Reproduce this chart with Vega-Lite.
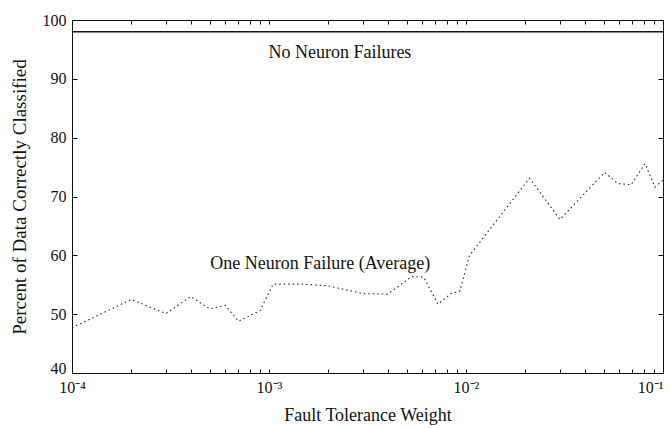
{
  "$schema": "https://vega.github.io/schema/vega-lite/v6.json",
  "width": 591,
  "height": 353,
  "autosize": {"type": "none"},
  "padding": {"left": 72, "top": 20, "right": 8, "bottom": 55},
  "background": "white",
  "config": {
    "view": {"stroke": null},
    "font": "Liberation Serif",
    "axis": {
      "grid": false,
      "domainColor": "#111",
      "domainWidth": 1,
      "tickColor": "#111",
      "tickWidth": 1,
      "labelColor": "#111",
      "titleColor": "#111",
      "labelFont": "Liberation Serif",
      "titleFont": "Liberation Serif",
      "labelFontSize": 16,
      "titleFontSize": 18,
      "titleFontWeight": "normal",
      "labelOverlap": false
    }
  },
  "datasets": {
    "one": [
      {"w": 0.0001, "p": 47.7},
      {"w": 0.0002, "p": 52.5},
      {"w": 0.0003, "p": 50.1},
      {"w": 0.0004, "p": 53.0},
      {"w": 0.0005, "p": 50.9},
      {"w": 0.0006, "p": 51.5},
      {"w": 0.0007, "p": 48.8},
      {"w": 0.0009, "p": 50.6},
      {"w": 0.00105, "p": 55.1},
      {"w": 0.0015, "p": 55.1},
      {"w": 0.002, "p": 54.8},
      {"w": 0.003, "p": 53.5},
      {"w": 0.004, "p": 53.4},
      {"w": 0.0053, "p": 56.4},
      {"w": 0.0061, "p": 56.3},
      {"w": 0.0072, "p": 51.7},
      {"w": 0.0084, "p": 53.5},
      {"w": 0.0093, "p": 53.9},
      {"w": 0.0104, "p": 59.9},
      {"w": 0.011, "p": 61.0},
      {"w": 0.021, "p": 73.1},
      {"w": 0.030, "p": 66.1},
      {"w": 0.0505, "p": 74.1},
      {"w": 0.059, "p": 72.2},
      {"w": 0.069, "p": 72.0},
      {"w": 0.081, "p": 75.6},
      {"w": 0.091, "p": 71.6},
      {"w": 0.1, "p": 72.8}
    ],
    "none": [
      {"w": 0.0001, "p": 98},
      {"w": 0.1, "p": 98}
    ],
    "labels": [
      {"w": 0.00229, "p": 94.4, "text": "No Neuron Failures"},
      {"w": 0.00182, "p": 58.5, "text": "One Neuron Failure (Average)"}
    ]
  },
  "layer": [
    {
      "data": {"name": "one"},
      "mark": {"type": "line", "strokeDash": [1.5, 3], "strokeWidth": 1.1, "color": "#222"},
      "encoding": {
        "x": {
          "field": "w", "type": "quantitative",
          "scale": {"type": "log", "domain": [0.0001, 0.1], "nice": false},
          "axis": {
            "orient": "bottom",
            "title": "Fault Tolerance Weight",
            "titlePadding": 11,
            "values": [0.0001, 0.0002, 0.0003, 0.0004, 0.0005, 0.0006, 0.0007, 0.0008, 0.0009, 0.001, 0.002, 0.003, 0.004, 0.005, 0.006, 0.007, 0.008, 0.009, 0.01, 0.02, 0.03, 0.04, 0.05, 0.06, 0.07, 0.08, 0.09, 0.1],
            "labelExpr": "datum.value < 0.00015 ? '10⁻⁴' : (datum.value > 0.00095 && datum.value < 0.00105) ? '10⁻³' : (datum.value > 0.0095 && datum.value < 0.0105) ? '10⁻²' : datum.value > 0.095 ? '10⁻¹' : ''",
            "labelFlush": false,
            "labelAlign": {"expr": "datum.value > 0.095 ? 'right' : 'center'"},
            "tickSize": -4,
            "labelPadding": 10
          }
        },
        "y": {
          "field": "p", "type": "quantitative",
          "scale": {"domain": [40, 100], "nice": false, "zero": false},
          "axis": {
            "orient": "left",
            "title": "Percent of Data Correctly Classified",
            "titleFontSize": 19,
            "titlePadding": 13,
            "values": [40, 50, 60, 70, 80, 90, 100],
            "tickSize": -5,
            "labelPadding": 11,
            "labelBaseline": {"expr": "datum.value == 40 ? 'alphabetic' : 'middle'"}
          }
        }
      }
    },
    {
      "data": {"name": "none"},
      "mark": {"type": "line", "strokeWidth": 1.4, "color": "#111"},
      "encoding": {
        "x": {
          "field": "w", "type": "quantitative",
          "scale": {"type": "log", "domain": [0.0001, 0.1], "nice": false},
          "axis": {
            "orient": "top",
            "title": null,
            "labels": false,
            "values": [0.0001, 0.0002, 0.0003, 0.0004, 0.0005, 0.0006, 0.0007, 0.0008, 0.0009, 0.001, 0.002, 0.003, 0.004, 0.005, 0.006, 0.007, 0.008, 0.009, 0.01, 0.02, 0.03, 0.04, 0.05, 0.06, 0.07, 0.08, 0.09, 0.1],
            "tickSize": -4
          }
        },
        "y": {
          "field": "p", "type": "quantitative",
          "scale": {"domain": [40, 100], "nice": false, "zero": false},
          "axis": {
            "orient": "right",
            "title": null,
            "labels": false,
            "values": [40, 50, 60, 70, 80, 90, 100],
            "tickSize": -5
          }
        }
      }
    },
    {
      "data": {"name": "labels"},
      "mark": {"type": "text", "font": "Liberation Serif", "fontSize": 18, "color": "#111", "align": "center", "baseline": "middle"},
      "encoding": {
        "x": {"field": "w", "type": "quantitative", "scale": {"type": "log", "domain": [0.0001, 0.1], "nice": false}, "axis": null},
        "y": {"field": "p", "type": "quantitative", "scale": {"domain": [40, 100], "nice": false, "zero": false}, "axis": null},
        "text": {"field": "text", "type": "nominal"}
      }
    }
  ],
  "resolve": {"axis": {"x": "independent", "y": "independent"}}
}
